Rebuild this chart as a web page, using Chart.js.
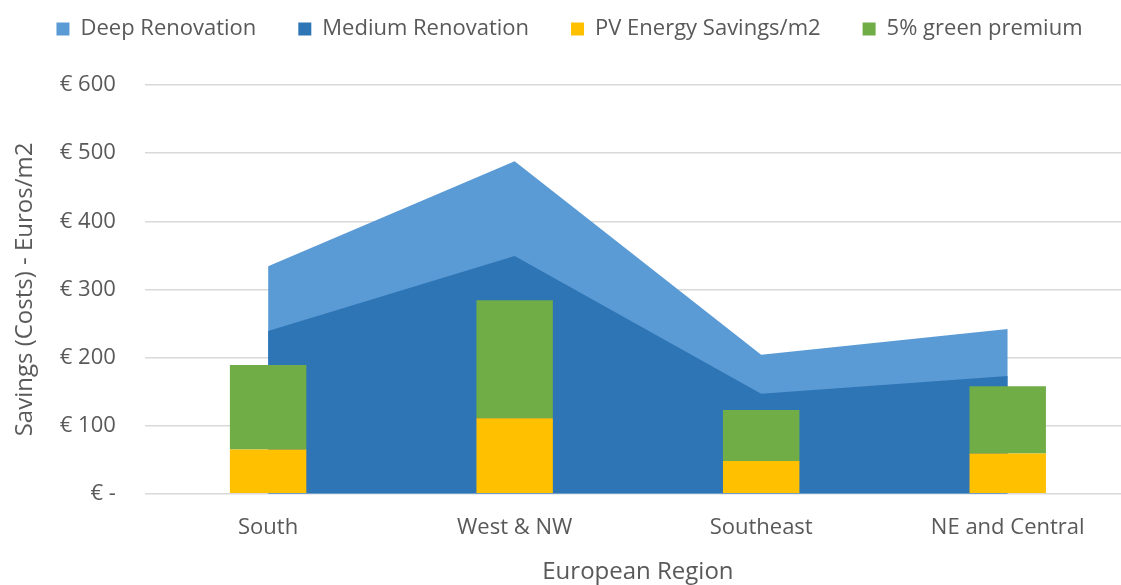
<!DOCTYPE html>
<html>
<head>
<meta charset="utf-8">
<script src="https://cdn.jsdelivr.net/npm/chart.js@4"></script>
<style>
    html, body { margin: 0; padding: 0; overflow: hidden; background: #fff; }
</style>
</head>
<body>
<canvas id="grafica" width="1131" height="585"></canvas>
<script>
const regiones = ['South', 'West & NW', 'Southeast', 'NE and Central'];
const deepRenovation = [334, 488, 204, 242];
const mediumRenovation = [239, 349, 147, 173];
const pvSavings = [65, 111, 48, 59];
const greenPremium = [124, 173, 75, 99];
const ticksY = [0, 100, 200, 300, 400, 500, 600];

const gris = '#595959';
const fuente = '"Open Sans", sans-serif';

// espacio extra debajo de la leyenda
const espacioLeyenda = {
    id: 'espacioLeyenda',
    beforeInit(chart) {
        const fitOriginal = chart.legend.fit;
        chart.legend.fit = function () {
            fitOriginal.bind(chart.legend)();
            this.height += 35;
        };
    }
};

new Chart(document.getElementById('grafica'), {
    type: 'bar',
    data: {
        labels: regiones,
        datasets: [
            {
                type: 'line',
                label: 'Deep Renovation',
                data: deepRenovation,
                backgroundColor: '#5B9BD5',
                borderColor: '#5B9BD5',
                borderWidth: 0,
                pointRadius: 0,
                fill: 'origin',
                stack: 'deep',
                order: 4
            },
            {
                type: 'line',
                label: 'Medium Renovation',
                data: mediumRenovation,
                backgroundColor: '#2E75B6',
                borderColor: '#2E75B6',
                borderWidth: 0,
                pointRadius: 0,
                fill: 'origin',
                stack: 'medium',
                order: 3
            },
            {
                label: 'PV Energy Savings/m2',
                data: pvSavings,
                backgroundColor: '#FFC000',
                stack: 'barras',
                order: 1
            },
            {
                label: '5% green premium',
                data: greenPremium,
                backgroundColor: '#70AD47',
                stack: 'barras',
                order: 2
            }
        ]
    },
    options: {
        responsive: false,
        animation: false,
        categoryPercentage: 1,
        barPercentage: 0.31,
        layout: { padding: { left: 8, right: 0, top: -24, bottom: -2 } },
        plugins: {
            tooltip: { enabled: false },
            legend: {
                position: 'top',
                labels: {
                    color: gris,
                    font: { family: fuente, size: 22 },
                    boxWidth: 13,
                    boxHeight: 13,
                    padding: 42,
                    sort: (a, b) => a.datasetIndex - b.datasetIndex
                }
            }
        },
        scales: {
            x: {
                grid: { display: false },
                border: { display: false },
                ticks: { color: gris, font: { family: fuente, size: 22 }, padding: 13 },
                title: {
                    display: true,
                    text: 'European Region',
                    color: gris,
                    font: { family: fuente, size: 24 },
                    padding: { top: 4, bottom: 0 }
                }
            },
            y: {
                stacked: true,
                min: 0,
                max: 600,
                afterBuildTicks: axis => {
                    axis.ticks = ticksY.map(v => ({ value: v }));
                },
                grid: { color: '#D9D9D9', lineWidth: 1.5, drawTicks: false },
                border: { display: false },
                ticks: {
                    color: gris,
                    font: { family: fuente, size: 22 },
                    padding: 29,
                    callback: v => v === 0 ? '€ -' : '€ ' + v
                },
                title: {
                    display: true,
                    text: 'Savings (Costs) - Euros/m2',
                    color: gris,
                    font: { family: fuente, size: 24 },
                    padding: { top: 3, bottom: -9 }
                }
            }
        }
    },
    plugins: [espacioLeyenda]
});
</script>
</body>
</html>
